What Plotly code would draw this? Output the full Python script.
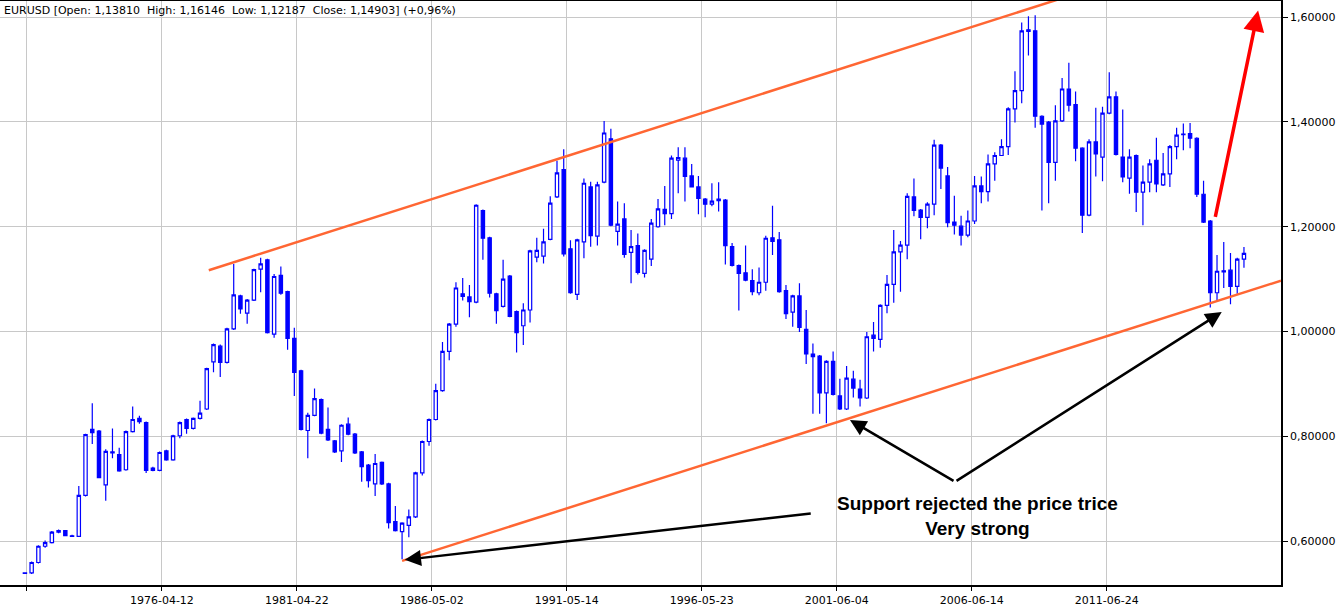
import plotly.graph_objects as go

# quarterly EURUSD candles, 1971 .. 2016
opens = [0.538, 0.539, 0.559, 0.590, 0.597, 0.617, 0.620, 0.610, 0.609, 0.687,
         0.813, 0.810, 0.707, 0.770, 0.765, 0.736, 0.809, 0.834, 0.826, 0.739,
         0.735, 0.772, 0.755, 0.801, 0.832, 0.815, 0.834, 0.852, 0.942, 0.972,
         0.941, 1.005, 1.068, 1.035, 1.060, 1.119, 1.137, 0.995, 1.107, 1.076,
         0.987, 0.925, 0.811, 0.840, 0.870, 0.813, 0.791, 0.772, 0.823, 0.804,
         0.770, 0.745, 0.709, 0.750, 0.709, 0.637, 0.618, 0.630, 0.646, 0.730,
         0.790, 0.832, 0.887, 0.962, 1.014, 1.072, 1.066, 1.056, 1.231, 1.179,
         1.072, 1.048, 1.106, 1.038, 1.011, 1.041, 1.142, 1.144, 1.176, 1.257,
         1.309, 1.158, 1.071, 1.171, 1.276, 1.182, 1.285, 1.368, 1.191, 1.215,
         1.151, 1.164, 1.111, 1.138, 1.200, 1.233, 1.225, 1.327, 1.331, 1.297,
         1.276, 1.253, 1.243, 1.253, 1.251, 1.162, 1.126, 1.112, 1.097, 1.074,
         1.094, 1.179, 1.175, 1.078, 1.037, 1.068, 1.004, 0.957, 0.953, 0.883,
         0.943, 0.877, 0.852, 0.909, 0.890, 0.873, 0.993, 0.985, 1.050, 1.090,
         1.152, 1.165, 1.257, 1.232, 1.218, 1.243, 1.356, 1.297, 1.209, 1.201,
         1.184, 1.211, 1.278, 1.267, 1.320, 1.336, 1.353, 1.425, 1.460, 1.576,
         1.574, 1.411, 1.400, 1.323, 1.402, 1.463, 1.433, 1.350, 1.222, 1.362,
         1.333, 1.417, 1.448, 1.333, 1.293, 1.336, 1.266, 1.285, 1.327, 1.280,
         1.301, 1.353, 1.376, 1.378, 1.369, 1.262, 1.211, 1.074, 1.116, 1.117,
         1.086, 1.13810]
highs = [0.540, 0.561, 0.592, 0.601, 0.619, 0.622, 0.621, 0.612, 0.705, 0.805,
         0.863, 0.812, 0.775, 0.815, 0.778, 0.811, 0.857, 0.839, 0.828, 0.742,
         0.771, 0.774, 0.803, 0.828, 0.834, 0.836, 0.868, 0.931, 0.977, 0.975,
         1.007, 1.129, 1.070, 1.062, 1.120, 1.141, 1.139, 1.110, 1.124, 1.078,
         1.007, 0.927, 0.845, 0.891, 0.872, 0.855, 0.793, 0.823, 0.836, 0.806,
         0.772, 0.747, 0.766, 0.752, 0.711, 0.667, 0.636, 0.660, 0.732, 0.792,
         0.834, 0.900, 0.980, 1.016, 1.094, 1.102, 1.089, 1.243, 1.233, 1.181,
         1.074, 1.137, 1.108, 1.040, 1.054, 1.156, 1.179, 1.196, 1.258, 1.326,
         1.348, 1.174, 1.177, 1.292, 1.286, 1.286, 1.402, 1.387, 1.248, 1.245,
         1.194, 1.187, 1.157, 1.215, 1.253, 1.278, 1.336, 1.352, 1.352, 1.320,
         1.297, 1.255, 1.283, 1.285, 1.253, 1.169, 1.128, 1.164, 1.119, 1.122,
         1.183, 1.240, 1.190, 1.089, 1.070, 1.092, 1.041, 0.977, 0.955, 0.945,
         0.962, 0.910, 0.934, 0.925, 0.908, 0.999, 1.018, 1.052, 1.108, 1.194,
         1.173, 1.264, 1.292, 1.234, 1.247, 1.366, 1.358, 1.314, 1.259, 1.221,
         1.231, 1.297, 1.296, 1.338, 1.342, 1.367, 1.428, 1.497, 1.590, 1.602,
         1.604, 1.413, 1.402, 1.432, 1.484, 1.513, 1.458, 1.352, 1.367, 1.427,
         1.429, 1.495, 1.458, 1.424, 1.348, 1.338, 1.317, 1.329, 1.370, 1.341,
         1.356, 1.389, 1.397, 1.398, 1.371, 1.288, 1.213, 1.146, 1.171, 1.150,
         1.141, 1.16146]
lows = [0.537, 0.537, 0.557, 0.587, 0.595, 0.615, 0.609, 0.608, 0.608, 0.685,
        0.785, 0.720, 0.677, 0.758, 0.732, 0.734, 0.807, 0.824, 0.730, 0.733,
        0.733, 0.753, 0.753, 0.796, 0.805, 0.813, 0.832, 0.850, 0.922, 0.913,
        0.939, 1.003, 1.034, 1.015, 1.058, 1.075, 0.996, 0.988, 1.070, 0.965,
        0.877, 0.811, 0.758, 0.838, 0.804, 0.791, 0.768, 0.751, 0.802, 0.766,
        0.713, 0.702, 0.686, 0.707, 0.624, 0.618, 0.565, 0.607, 0.644, 0.725,
        0.782, 0.830, 0.885, 0.945, 1.009, 1.059, 1.027, 1.054, 1.137, 1.065,
        1.015, 1.046, 1.027, 0.960, 0.974, 1.017, 1.132, 1.130, 1.174, 1.255,
        1.143, 1.072, 1.060, 1.140, 1.162, 1.164, 1.283, 1.201, 1.164, 1.141,
        1.092, 1.109, 1.103, 1.125, 1.198, 1.203, 1.215, 1.264, 1.248, 1.275,
        1.224, 1.218, 1.239, 1.229, 1.128, 1.124, 1.040, 1.096, 1.069, 1.069,
        1.078, 1.146, 1.074, 1.024, 1.009, 0.999, 0.938, 0.843, 0.843, 0.825,
        0.878, 0.850, 0.850, 0.874, 0.857, 0.871, 0.962, 0.969, 1.035, 1.055,
        1.076, 1.138, 1.220, 1.176, 1.197, 1.222, 1.272, 1.199, 1.185, 1.164,
        1.180, 1.205, 1.245, 1.248, 1.288, 1.337, 1.337, 1.399, 1.436, 1.527,
        1.389, 1.231, 1.245, 1.288, 1.400, 1.420, 1.325, 1.188, 1.220, 1.296,
        1.287, 1.415, 1.336, 1.285, 1.263, 1.228, 1.203, 1.266, 1.266, 1.278,
        1.276, 1.329, 1.346, 1.350, 1.257, 1.207, 1.046, 1.057, 1.083, 1.052,
        1.072, 1.12187]
closes = [0.539, 0.559, 0.590, 0.597, 0.617, 0.620, 0.610, 0.609, 0.687, 0.803,
          0.807, 0.721, 0.771, 0.768, 0.734, 0.809, 0.832, 0.828, 0.735, 0.735,
          0.769, 0.755, 0.801, 0.826, 0.815, 0.834, 0.844, 0.929, 0.975, 0.941,
          1.005, 1.070, 1.043, 1.060, 1.118, 1.129, 0.998, 1.105, 1.073, 0.987,
          0.922, 0.813, 0.840, 0.872, 0.806, 0.793, 0.770, 0.821, 0.804, 0.768,
          0.742, 0.715, 0.748, 0.709, 0.635, 0.620, 0.634, 0.646, 0.730, 0.790,
          0.832, 0.887, 0.962, 1.014, 1.083, 1.067, 1.057, 1.241, 1.178, 1.073,
          1.040, 1.100, 1.029, 0.998, 1.041, 1.154, 1.155, 1.171, 1.245, 1.303,
          1.148, 1.074, 1.175, 1.283, 1.183, 1.280, 1.379, 1.203, 1.205, 1.147,
          1.162, 1.113, 1.155, 1.207, 1.234, 1.225, 1.331, 1.332, 1.296, 1.276,
          1.254, 1.243, 1.249, 1.250, 1.164, 1.126, 1.111, 1.098, 1.076, 1.094,
          1.178, 1.172, 1.076, 1.034, 1.068, 1.008, 0.957, 0.952, 0.883, 0.943,
          0.880, 0.852, 0.911, 0.892, 0.873, 0.990, 0.987, 1.050, 1.090, 1.152,
          1.165, 1.258, 1.231, 1.218, 1.243, 1.356, 1.312, 1.208, 1.203, 1.184,
          1.211, 1.278, 1.267, 1.320, 1.336, 1.353, 1.425, 1.460, 1.574, 1.573,
          1.411, 1.396, 1.323, 1.402, 1.463, 1.432, 1.350, 1.222, 1.362, 1.339,
          1.417, 1.448, 1.338, 1.295, 1.333, 1.266, 1.285, 1.320, 1.282, 1.301,
          1.353, 1.375, 1.377, 1.369, 1.262, 1.209, 1.074, 1.115, 1.114, 1.086,
          1.138, 1.14903]

date_ticks = [0.3, 20.34, 40.38, 60.42, 80.46, 100.5, 120.54, 140.58, 160.62]
date_labels = ["", "1976-04-12", "1981-04-22", "1986-05-02", "1991-05-14",
               "1996-05-23", "2001-06-04", "2006-06-14", "2011-06-24"]
price_ticks = [0.6, 0.8, 1.0, 1.2, 1.4, 1.6]
price_labels = ["0,60000", "0,80000", "1,00000", "1,20000", "1,40000", "1,60000"]

# channel lines (x = candle index, y = price)
upper_x, upper_y = [27.3, 160.0], [1.117, 1.661]
lower_x, lower_y = [56.0, 186.5], [0.562, 1.097]

x = list(range(len(closes)))

fig = go.Figure()
fig.add_trace(go.Candlestick(
    x=x, open=opens, high=highs, low=lows, close=closes,
    increasing=dict(line=dict(color="#0000ff", width=1.2), fillcolor="white"),
    decreasing=dict(line=dict(color="#0000ff", width=1.2), fillcolor="#0000ff"),
    whiskerwidth=0, showlegend=False, hoverinfo="skip"))
fig.add_trace(go.Scatter(x=upper_x, y=upper_y, mode="lines",
                         line=dict(color="#ff6633", width=2.5), showlegend=False))
fig.add_trace(go.Scatter(x=lower_x, y=lower_y, mode="lines",
                         line=dict(color="#ff6633", width=2.5), showlegend=False))

arrows = [((116.9, 0.653), (56.4, 0.564)),
          ((138.1, 0.713), (122.5, 0.831)),
          ((138.1, 0.713), (177.7, 1.037))]
for tail, head in arrows:
    fig.add_annotation(x=head[0], y=head[1], ax=tail[0], ay=tail[1],
                       xref="x", yref="y", axref="x", ayref="y", text="",
                       showarrow=True, arrowhead=2, arrowsize=1.3,
                       arrowwidth=2.5, arrowcolor="black")
fig.add_annotation(x=183.1, y=1.613, ax=176.7, ay=1.216,
                   xref="x", yref="y", axref="x", ayref="y", text="",
                   showarrow=True, arrowhead=2, arrowsize=1.2,
                   arrowwidth=3.5, arrowcolor="#ff0000")

fig.add_annotation(x=141.5, y=0.648, xref="x", yref="y", showarrow=False,
                   text="<b>Support rejected the price trice<br>Very strong</b>",
                   font=dict(family="Liberation Sans", size=19, color="black"))
fig.add_annotation(x=0, y=1, xref="paper", yref="paper", xanchor="left",
                   yanchor="top", xshift=2, yshift=-1, showarrow=False,
                   text="EURUSD [Open: 1,13810  High: 1,16146  Low: 1,12187  Close: 1,14903] (+0,96%)",
                   font=dict(family="DejaVu Sans", size=11, color="black"))

fig.update_layout(
    width=1342, height=609,
    margin=dict(l=0, r=61, t=1, b=24),
    paper_bgcolor="white", plot_bgcolor="white",
    font=dict(family="DejaVu Sans", size=11, color="black"),
    xaxis=dict(range=[-3.7, 186.5], rangeslider=dict(visible=False),
               tickvals=date_ticks, ticktext=date_labels,
               showgrid=True, gridcolor="#c8c8c8", zeroline=False,
               showline=True, linecolor="black", linewidth=1.5, mirror=True,
               ticks="outside", ticklen=4, tickcolor="black"),
    yaxis=dict(range=[0.516, 1.631], side="right",
               tickvals=price_ticks, ticktext=price_labels,
               showgrid=True, gridcolor="#c8c8c8", zeroline=False,
               showline=True, linecolor="black", linewidth=1.5,
               ticks="outside", ticklen=5, tickcolor="black"),
)

fig.write_html("out.html", config={"displayModeBar": False},
               post_script="document.body.style.margin='0';document.body.style.overflow='hidden';")
